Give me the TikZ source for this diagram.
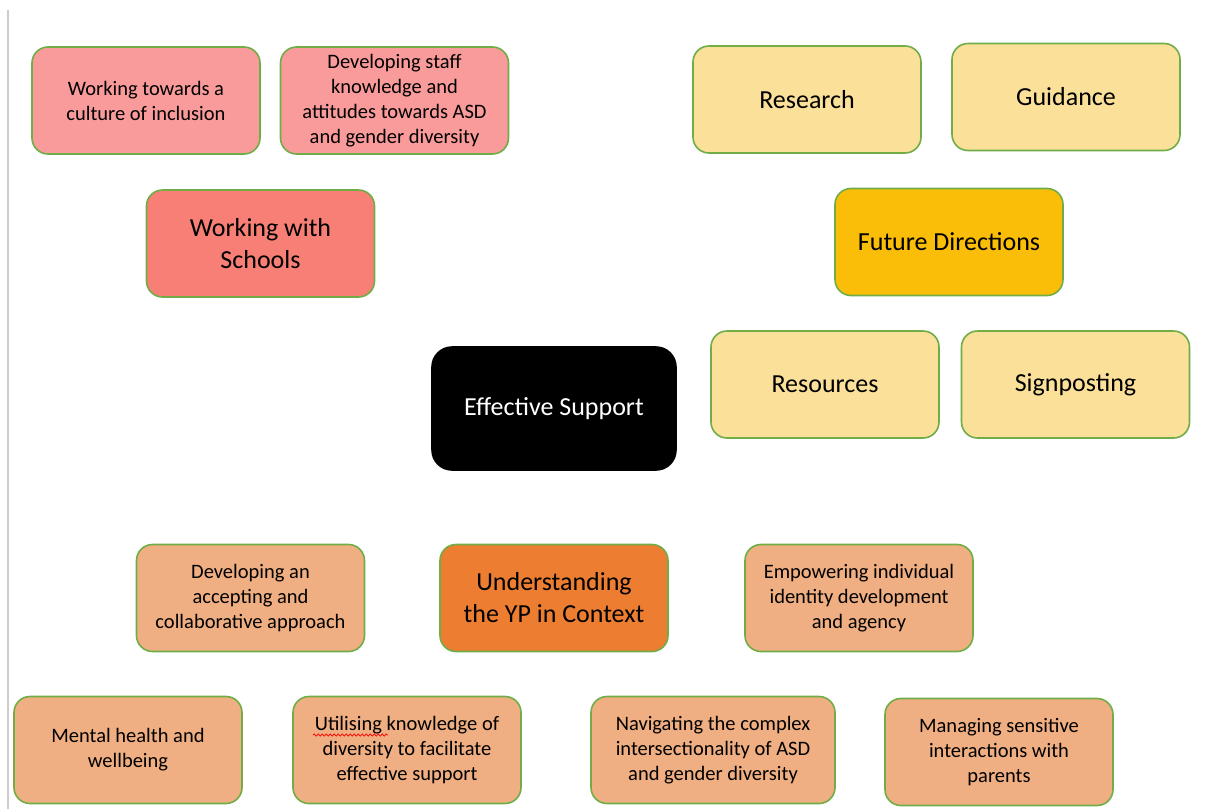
\documentclass[tikz,border=0pt]{standalone}
\usepackage{fontspec}
\setmainfont{Carlito}
\usetikzlibrary{decorations.pathmorphing}

\definecolor{pinklight}{RGB}{249,155,154}
\definecolor{pinkdark}{RGB}{247,127,118}
\definecolor{sand}{RGB}{251,224,153}
\definecolor{gold}{RGB}{251,190,8}
\definecolor{peach}{RGB}{240,175,130}
\definecolor{deeporange}{RGB}{237,125,49}
\definecolor{edgegreen}{RGB}{112,173,71}
\definecolor{railgray}{RGB}{205,205,205}

\tikzset{
  card/.style={draw=edgegreen, line width=1.6pt, rounded corners=16pt,
    align=center, inner sep=0pt, minimum width=228pt, minimum height=107pt},
  small/.style={font=\fontsize{20.5}{25}\selectfont},
  large/.style={font=\fontsize{26}{32}\selectfont},
  spellmark/.style={draw=red, line width=0.7pt,
    decorate, decoration={snake, amplitude=1.1pt, segment length=4pt}}
}

\begin{document}
\begin{tikzpicture}[x=1pt, y=-1pt]
  \useasboundingbox[fill=white] (0,0) rectangle (1207,809);

  % margin rule on the left
  \coordinate (railtop) at (8,10);
  \coordinate (railbot) at (8,809);
  \draw[railgray, line width=2pt] (railtop) -- (railbot);

  % working with schools
  \node[card, small, fill=pinklight] (culture) at (146,100.5)
    {Working towards a\\culture of inclusion};
  \node[card, small, fill=pinklight] (staff) at (394.5,100.5)
    {Developing staff\\knowledge and\\attitudes towards ASD\\and gender diversity};
  \node[card, large, fill=pinkdark] (schools) at (260.5,243.5)
    {Working with\\Schools};

  % future directions
  \node[card, large, fill=sand] (research) at (807,99.5) {Research};
  \node[card, large, fill=sand] (guidance) at (1066,97) {Guidance};
  \node[card, large, fill=gold] (future) at (949,242) {Future Directions};
  \node[card, large, fill=sand] (resources) at (825,384.5) {Resources};
  \node[card, large, fill=sand] (signpost) at (1075.5,384.5) {Signposting};

  % central theme
  \node[card, large, fill=black, text=white, minimum width=244pt,
        minimum height=123pt, rounded corners=20pt, draw=black] (effective)
        at (554,408.5) {Effective Support};

  % understanding the YP in context
  \node[card, small, fill=peach] (accepting) at (250.5,598)
    {Developing an\\accepting and\\collaborative approach};
  \node[card, large, fill=deeporange] (context) at (554,598)
    {Understanding\\the YP in Context};
  \node[card, small, fill=peach] (identity) at (859,598)
    {Empowering individual\\identity development\\and agency};
  \node[card, small, fill=peach] (mental) at (128,750)
    {Mental health and\\wellbeing};
  \node[card, small, fill=peach] (utilising) at (407,750)
    {Utilising knowledge of\\diversity to facilitate\\effective support};
  \node[card, small, fill=peach, minimum width=244pt] (navigating) at (713,750)
    {Navigating the complex\\intersectionality of ASD\\and gender diversity};
  \node[card, small, fill=peach] (parents) at (999,752)
    {Managing sensitive\\interactions with\\parents};

  % spell-check underline beneath the first word of "Utilising"
  \coordinate (spellA) at (313,735);
  \coordinate (spellB) at (388,735);
  \draw[spellmark] (spellA) -- (spellB);
\end{tikzpicture}
\end{document}
